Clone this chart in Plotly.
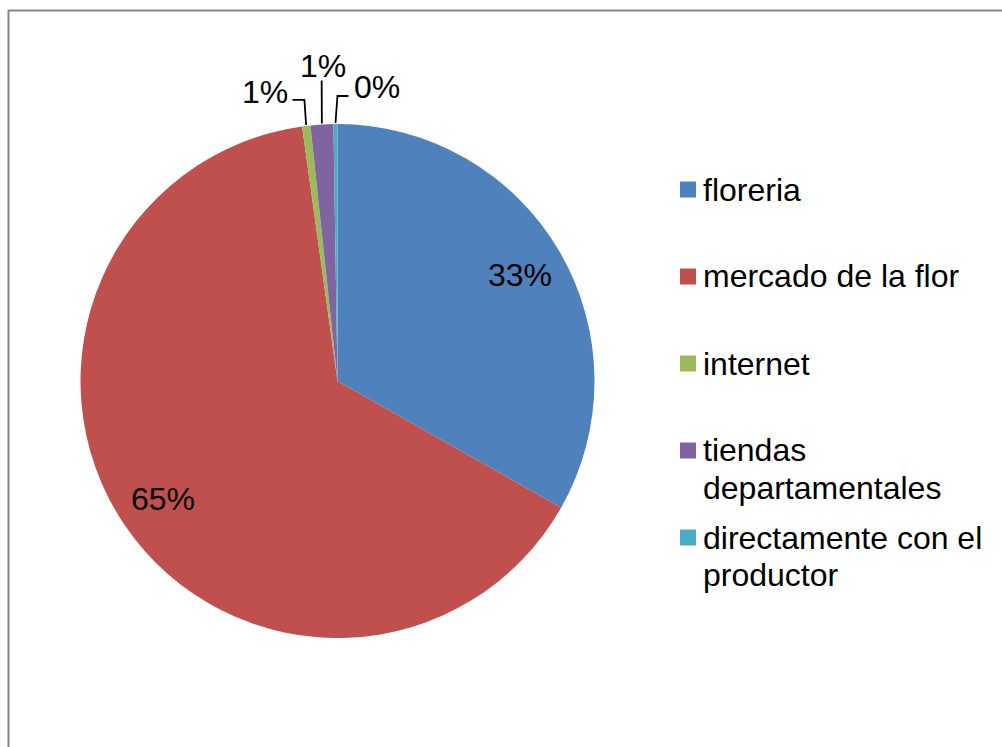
import math
import textwrap
import plotly.graph_objects as go

# Survey data: where people buy flowers (share of responses, %)
categories = ["floreria", "mercado de la flor", "internet",
              "tiendas departamentales", "directamente con el productor"]
shares = [33.2, 64.6, 0.52, 1.43, 0.25]
colors = ["#4F81BD", "#C0504D", "#9BBB59", "#8064A2", "#4BACC6"]

# ---- layout constants (pixels) ----
W, H = 1002, 747
CX, CY, R = 337.5, 381.0, 257.0
FONT = dict(family="Liberation Sans, Arial, sans-serif", size=32, color="#000000")
INSIDE_FRAC = 0.82
LEG_X, LEG_Y0, LEG_STEP, LEG_LINE, LEG_BOX = 680, 189.5, 87.0, 37.0, 16

# leader-line geometry for small slices, relative to the slice's rim point:
# (elbow dx, elbow dy, end dx, label x, label y, xanchor)
LEADERS = {
    "internet": (-1.7, -25.0, -12.0, -16.0, -33.0, "right"),
    "tiendas departamentales": (-0.2, -43.0, 0.0, 1.0, -57.0, "center"),
    "directamente con el productor": (2.0, -27.0, 11.0, 17.0, -36.0, "left"),
}


def px(x):
    return x / W


def py(y):
    return 1 - y / H


total = sum(shares)
pcts = [s / total * 100 for s in shares]
labels = ["%d%%" % math.floor(p + 0.5) for p in pcts]

fig = go.Figure(go.Pie(
    labels=categories,
    values=shares,
    sort=False,
    direction="clockwise",
    rotation=0,
    marker=dict(colors=colors, line=dict(width=0)),
    textinfo="none",
    showlegend=False,
    domain=dict(x=[px(CX - R), px(CX + R)], y=[py(CY + R), py(CY - R)]),
))

annotations = []
shapes = []

# percentage labels
cum = 0.0
for name, p, lab in zip(categories, pcts, labels):
    mid = (cum + p / 2) / 100 * 2 * math.pi
    cum += p
    if name not in LEADERS:
        x = CX + INSIDE_FRAC * R * math.sin(mid)
        y = CY - INSIDE_FRAC * R * math.cos(mid)
        annotations.append(dict(x=px(x), y=py(y), xref="paper", yref="paper",
                                text=lab, showarrow=False, font=FONT,
                                xanchor="center", yanchor="middle"))
        continue
    ex = CX + (R + 1) * math.sin(mid)
    ey = CY - (R + 1) * math.cos(mid)
    edx, edy, endx, lx, ly, anchor = LEADERS[name]
    bx, by = ex + edx, ey + edy
    path = "M %f,%f L %f,%f L %f,%f" % (px(ex), py(ey), px(bx), py(by),
                                         px(bx + endx), py(by))
    shapes.append(dict(type="path", path=path, xref="paper", yref="paper",
                       line=dict(color="#000000", width=1.8)))
    annotations.append(dict(x=px(ex + lx), y=py(ey + ly), xref="paper", yref="paper",
                            text=lab, showarrow=False, font=FONT,
                            xanchor=anchor, yanchor="middle"))

# legend: colour swatch plus wrapped category name
for i, (name, col) in enumerate(zip(categories, colors)):
    yc = LEG_Y0 + i * LEG_STEP
    shapes.append(dict(type="rect", xref="paper", yref="paper",
                       x0=px(LEG_X), x1=px(LEG_X + LEG_BOX),
                       y0=py(yc - LEG_BOX / 2), y1=py(yc + LEG_BOX / 2),
                       fillcolor=col, line=dict(width=0)))
    for j, line in enumerate(textwrap.wrap(name, 20)):
        annotations.append(dict(x=px(LEG_X + 21), y=py(yc + j * LEG_LINE),
                                xref="paper", yref="paper", text=line,
                                showarrow=False, font=FONT,
                                xanchor="left", yanchor="middle"))

# chart frame
shapes.append(dict(type="line", xref="paper", yref="paper",
                   x0=px(8.5), x1=px(8.5), y0=py(10), y1=py(H + 5),
                   line=dict(color="#868686", width=2)))
shapes.append(dict(type="line", xref="paper", yref="paper",
                   x0=px(8), x1=px(W + 5), y0=py(10.5), y1=py(10.5),
                   line=dict(color="#868686", width=2)))

fig.update_layout(
    width=W, height=H,
    margin=dict(l=0, r=0, t=0, b=0),
    paper_bgcolor="#FFFFFF",
    plot_bgcolor="#FFFFFF",
    annotations=annotations,
    shapes=shapes,
)

fig.write_html("out.html")
